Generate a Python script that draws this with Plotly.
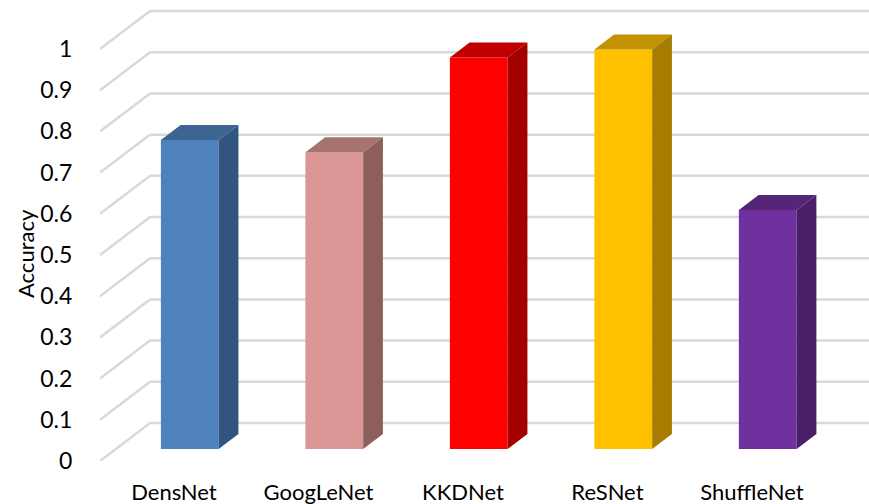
import plotly.graph_objects as go

# Model accuracies
models = ["DensNet", "GoogLeNet", "KKDNet", "ReSNet", "ShuffleNet"]
accuracy = [0.75, 0.72, 0.95, 0.97, 0.58]

# Value-axis ticks
tick_vals = [0, 0.1, 0.2, 0.3, 0.4, 0.5, 0.6, 0.7, 0.8, 0.9, 1.0]
tick_text = ["0", "0.1", "0.2", "0.3", "0.4", "0.5", "0.6", "0.7", "0.8", "0.9", "1"]

# Face colours: front, top, side
front_colors = ["#4F81BD", "#D99694", "#FF0000", "#FFC000", "#7030A0"]
top_colors = ["#3C6591", "#A67370", "#C00000", "#C29200", "#55257A"]
side_colors = ["#325480", "#8C5F5D", "#A30000", "#A67D00", "#4A1F68"]

# Oblique projection: full floor depth expressed in data units
DX = 0.346   # horizontal shift (category units) from front to back wall
DY = 0.0922  # vertical shift (value units) from front to back wall
F_FRONT = 0.316  # depth of bar front face
F_BACK = 0.711   # depth of bar back face
BAR_W = 0.40

X_MIN, X_MAX = -0.512, 4.81
Y_MAX = 1.119

fig = go.Figure()

# Gridlines: diagonal on the side wall, horizontal on the back wall
shapes = []
grid_style = dict(color="#D9D9D9", width=2.5)
for v in tick_vals:
    shapes.append(dict(type="line", xref="x", yref="y", layer="below",
                       x0=X_MIN, y0=v, x1=X_MIN + DX, y1=v + DY, line=grid_style))
    shapes.append(dict(type="line", xref="x", yref="y", layer="below",
                       x0=X_MIN + DX, y0=v + DY, x1=X_MAX, y1=v + DY, line=grid_style))

xs = list(range(len(models)))
base = F_FRONT * DY
ddx = (F_BACK - F_FRONT) * DX
ddy = (F_BACK - F_FRONT) * DY

# Front faces
fig.add_trace(go.Bar(
    x=[i + F_FRONT * DX for i in xs],
    y=accuracy,
    base=base,
    width=BAR_W,
    marker=dict(color=front_colors, line=dict(width=0)),
    hoverinfo="skip",
    showlegend=False,
))

# Top and side faces
for i, v in zip(xs, accuracy):
    xc = i + F_FRONT * DX
    xl, xr = xc - BAR_W / 2, xc + BAR_W / 2
    vt = v + base
    fig.add_trace(go.Scatter(
        x=[xl, xr, xr + ddx, xl + ddx, xl],
        y=[vt, vt, vt + ddy, vt + ddy, vt],
        fill="toself", fillcolor=top_colors[i], mode="lines",
        line=dict(width=0, color=top_colors[i]),
        hoverinfo="skip", showlegend=False,
    ))
    fig.add_trace(go.Scatter(
        x=[xr, xr, xr + ddx, xr + ddx, xr],
        y=[base, vt, vt + ddy, base + ddy, base],
        fill="toself", fillcolor=side_colors[i], mode="lines",
        line=dict(width=0, color=side_colors[i]),
        hoverinfo="skip", showlegend=False,
    ))

fig.update_layout(
    template="none",
    width=869, height=504,
    margin=dict(l=100, r=0, t=0, b=43, pad=0),
    paper_bgcolor="white", plot_bgcolor="white",
    font=dict(family="Lato, Carlito, sans-serif", color="#000000", size=23),
    shapes=shapes,
    xaxis=dict(
        range=[X_MIN, X_MAX], tickvals=xs, ticktext=models,
        showgrid=False, zeroline=False, showline=False, automargin=False,
        ticks="outside", ticklen=0, ticklabelstandoff=12,
        tickfont=dict(size=22), fixedrange=True,
    ),
    yaxis=dict(
        range=[0, Y_MAX], tickvals=tick_vals, ticktext=tick_text,
        showgrid=False, zeroline=False, showline=False, automargin=False,
        ticks="outside", ticklen=0, ticklabelstandoff=22,
        tickfont=dict(size=23), fixedrange=True,
    ),
    annotations=[dict(
        text="Accuracy", textangle=-90, showarrow=False,
        xref="paper", yref="paper", x=-0.0975, y=0.449,
        xanchor="center", yanchor="middle", font=dict(size=22),
    )],
)

fig.write_html("out.html")
